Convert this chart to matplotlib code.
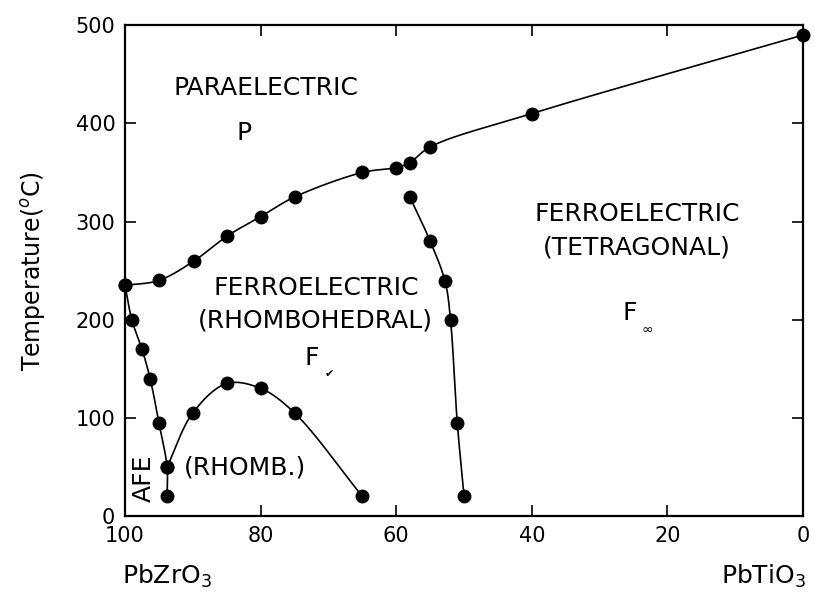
import numpy as np
import matplotlib
matplotlib.use("Agg")
import matplotlib.pyplot as plt

# PbZrO3 content (mol %) and temperature (degC) of the measured points
curie_x = [100, 95, 89.8, 85, 80, 75, 65, 60, 58, 55, 40, 0]
curie_t = [235, 240, 260, 285, 305, 325, 350, 355, 360, 376, 410, 490]

afe_x = [100, 99, 97.5, 96.3, 95, 93.8, 93.8]
afe_t = [235, 200, 170, 140, 95, 50, 20]

rhomb_x = [93.8, 90, 85, 80, 75, 65]
rhomb_t = [50, 105, 135, 130, 105, 20]

mpb_x = [58, 55, 52.8, 52, 51, 50]
mpb_t = [325, 280, 239, 200, 95, 20]

x_ticks = [100, 80, 60, 40, 20, 0]
y_ticks = [0, 100, 200, 300, 400, 500]

XLIM = (100, 0)
YLIM = (0, 500)


def smooth(xs, ys, n=40, alpha=0.5):
    # centripetal Catmull-Rom through the points (in axes-inch units),
    # only used to draw the guide line between symbols
    sx = (np.asarray(xs, float) - XLIM[0]) / (XLIM[1] - XLIM[0]) * 6.78
    sy = (np.asarray(ys, float) - YLIM[0]) / (YLIM[1] - YLIM[0]) * 4.91
    p = np.column_stack([sx, sy])
    p = np.vstack([2 * p[0] - p[1], p, 2 * p[-1] - p[-2]])
    out = []
    for i in range(1, len(p) - 2):
        p0, p1, p2, p3 = p[i - 1], p[i], p[i + 1], p[i + 2]
        t0 = 0.0
        t1 = t0 + np.linalg.norm(p1 - p0) ** alpha
        t2 = t1 + np.linalg.norm(p2 - p1) ** alpha
        t3 = t2 + np.linalg.norm(p3 - p2) ** alpha
        t = np.linspace(t1, t2, n)[:, None]
        a1 = (t1 - t) / (t1 - t0) * p0 + (t - t0) / (t1 - t0) * p1
        a2 = (t2 - t) / (t2 - t1) * p1 + (t - t1) / (t2 - t1) * p2
        a3 = (t3 - t) / (t3 - t2) * p2 + (t - t2) / (t3 - t2) * p3
        b1 = (t2 - t) / (t2 - t0) * a1 + (t - t0) / (t2 - t0) * a2
        b2 = (t3 - t) / (t3 - t1) * a2 + (t - t1) / (t3 - t1) * a3
        out.append((t2 - t) / (t2 - t1) * b1 + (t - t1) / (t2 - t1) * b2)
    s = np.vstack(out)
    x = XLIM[0] + s[:, 0] / 6.78 * (XLIM[1] - XLIM[0])
    y = YLIM[0] + s[:, 1] / 4.91 * (YLIM[1] - YLIM[0])
    return x, y


plt.rcParams["font.family"] = "DejaVu Sans"

fig = plt.figure(figsize=(8.14, 6.0), dpi=100)
ax = fig.add_axes([0.1536, 0.14, 0.833, 0.818])

for xs, ys in [(curie_x, curie_t), (afe_x, afe_t), (rhomb_x, rhomb_t), (mpb_x, mpb_t)]:
    lx, ly = smooth(xs, ys)
    ax.plot(lx, ly, color="black", lw=1.2)
    ax.plot(xs, ys, "o", color="black", ms=9, clip_on=False)

ax.set_xlim(*XLIM)
ax.set_ylim(*YLIM)
ax.set_xticks(x_ticks)
ax.set_yticks(y_ticks)
ax.tick_params(direction="in", length=8, width=1.2, labelsize=15, pad=7,
               top=True, right=True)
for s in ax.spines.values():
    s.set_linewidth(1.6)
ax.set_ylabel("Temperature($^o$C)", fontsize=17, labelpad=20)

txt = dict(fontsize=18, ha="center", va="center")
ax.text(79.2, 436, "PARAELECTRIC", **txt)
ax.text(82.5, 390, "P", **txt)
ax.text(24.5, 308, "FERROELECTRIC", **txt)
ax.text(24.5, 274, "(TETRAGONAL)", **txt)
ax.text(71.8, 232, "FERROELECTRIC", **txt)
ax.text(72, 199, "(RHOMBOHEDRAL)", **txt)
ax.text(72.5, 161, "F", **txt)
ax.text(69.9, 145, "\u2714", fontsize=8, ha="center", va="center")
ax.text(25.5, 207, "F", **txt)
ax.text(23, 190, "\u221e", fontsize=10, ha="center", va="center")
ax.text(82.3, 49, "(RHOMB.)", **txt)
ax.text(97.3, 38, "AFE", rotation=90, **txt)

fig.text(0.15, 0.04, "PbZrO$_3$", fontsize=18, ha="left", va="center")
fig.text(0.99, 0.04, "PbTiO$_3$", fontsize=18, ha="right", va="center")

fig.savefig("out.png", dpi=100)
